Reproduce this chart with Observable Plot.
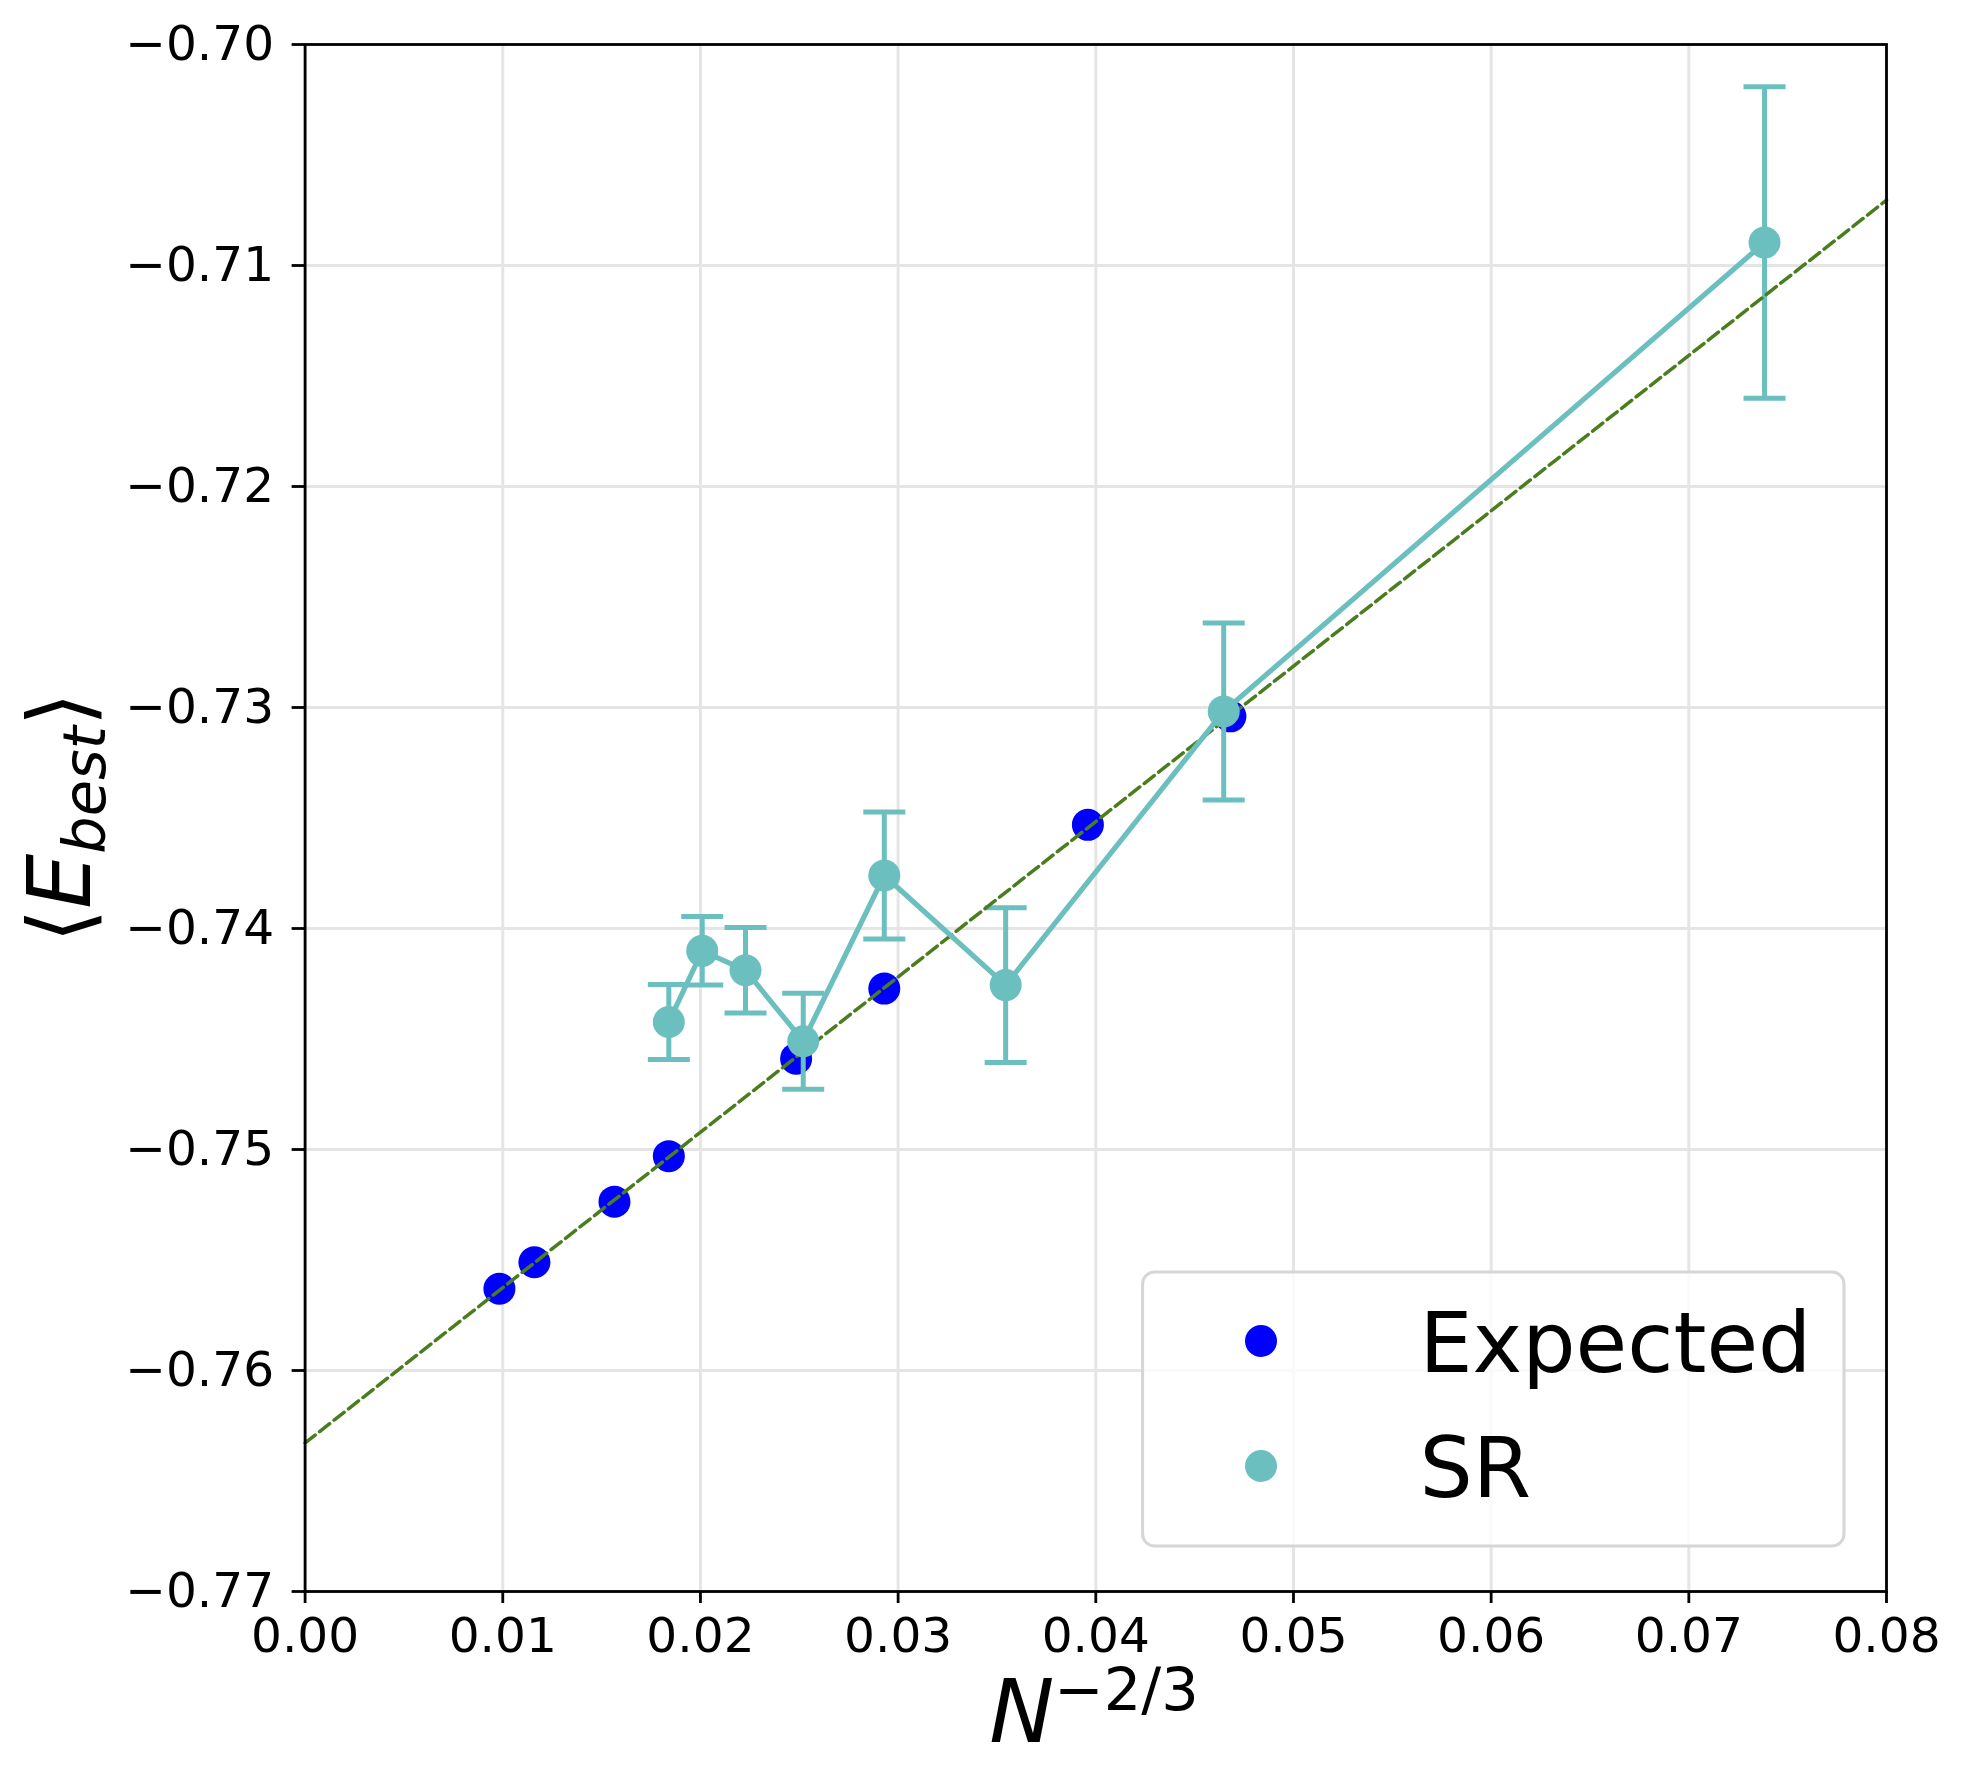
<!DOCTYPE html>
<html>
<head>
<meta charset="utf-8">
<script src="https://cdn.jsdelivr.net/npm/d3@7"></script>
<script src="https://cdn.jsdelivr.net/npm/@observablehq/plot@0.6"></script>
<style>
  html, body { margin: 0; padding: 0; background: white; }
  #chart { width: 1970px; height: 1786px; }
</style>
</head>
<body>
<div id="chart"></div>
<script>
// ---- data ----
const expectedX = [0.00983, 0.0116, 0.01565, 0.0184, 0.02484, 0.0293, 0.0396, 0.04681];
const expectedY = [-0.7563, -0.7551, -0.75236, -0.7503, -0.74589, -0.74272, -0.73531, -0.7304];

const srX   = [0.0184, 0.02009, 0.02228, 0.0252, 0.0293, 0.03544, 0.04647, 0.07383];
const srY   = [-0.74423, -0.74101, -0.74189, -0.7451, -0.7376, -0.74256, -0.73018, -0.70896];
const srErr = [0.0017, 0.00155, 0.00193, 0.00217, 0.00287, 0.0035, 0.004, 0.00705];

const fitX = [0, 0.08];
const fitY = [-0.76328, -0.70704];

const xTicks = [0, 0.01, 0.02, 0.03, 0.04, 0.05, 0.06, 0.07, 0.08];
const yTicks = [-0.77, -0.76, -0.75, -0.74, -0.73, -0.72, -0.71, -0.70];

const seriesNames = ["Expected", "SR"];
const colors = { Expected: "#0000ff", SR: "#6cbfbf", fit: "#4a7d1e" };

// ---- tables ----
const expected = expectedX.map((x, i) => ({ x, y: expectedY[i] }));
const sr = srX.map((x, i) => ({ x, y: srY[i], lo: srY[i] - srErr[i], hi: srY[i] + srErr[i] }));
const fit = fitX.map((x, i) => ({ x, y: fitY[i] }));

// horizontal cap symbol for error bars
const capSymbol = {
  draw(context, size) {
    const r = Math.sqrt(size / Math.PI);
    context.moveTo(-r, 0);
    context.lineTo(r, 0);
  }
};

const fmt = d3.format(".2f");

const chart = Plot.plot({
  width: 1970,
  height: 1786,
  marginLeft: 304.6,
  marginRight: 84,
  marginTop: 44,
  marginBottom: 195,
  style: { fontFamily: "DejaVu Sans", fontSize: "48.6px", color: "black", background: "white", overflow: "visible" },
  x: { domain: [0, 0.08] },
  y: { domain: [-0.77, -0.70] },
  marks: [
    Plot.gridX(xTicks, { stroke: "#e5e5e5", strokeOpacity: 1, strokeWidth: 3 }),
    Plot.gridY(yTicks, { stroke: "#e5e5e5", strokeOpacity: 1, strokeWidth: 3 }),
    Plot.axisX(xTicks, { tickFormat: fmt, tickSize: 12, tickPadding: 14, fontSize: 48.6, label: null, strokeWidth: 2.8 }),
    Plot.axisY(yTicks, { tickFormat: fmt, tickSize: 13, tickPadding: 18, fontSize: 48.6, label: null, strokeWidth: 2.8 }),
    Plot.dot(expected, { x: "x", y: "y", r: 16, fill: colors.Expected, stroke: "none" }),
    Plot.link(sr, { x1: "x", x2: "x", y1: "lo", y2: "hi", stroke: colors.SR, strokeWidth: 5 }),
    Plot.dot(sr, { x: "x", y: "lo", symbol: capSymbol, r: 21, stroke: colors.SR, strokeWidth: 5, fill: "none" }),
    Plot.dot(sr, { x: "x", y: "hi", symbol: capSymbol, r: 21, stroke: colors.SR, strokeWidth: 5, fill: "none" }),
    Plot.line(fit, { x: "x", y: "y", stroke: colors.fit, strokeWidth: 3.5, strokeDasharray: "12.8,5.6" }),
    Plot.line(sr, { x: "x", y: "y", stroke: colors.SR, strokeWidth: 5.2 }),
    Plot.dot(sr, { x: "x", y: "y", r: 16, fill: colors.SR, stroke: "none" }),
    Plot.frame({ stroke: "black", strokeWidth: 2.8 })
  ]
});

document.getElementById("chart").appendChild(chart);

const svg = d3.select(chart);

// x axis label: N^{-2/3}
const xl = svg.append("text")
  .attr("x", 1094).attr("y", 1742)
  .attr("text-anchor", "middle")
  .attr("fill", "black")
  .style("font-family", "DejaVu Sans");
xl.append("tspan").attr("font-size", 87).attr("font-style", "italic").text("N");
xl.append("tspan").attr("font-size", 59).attr("dy", -32).text("\u22122/3");

// y axis label: <E_best>
const yl = svg.append("text")
  .attr("transform", "translate(90,817.5) rotate(-90)")
  .attr("text-anchor", "middle")
  .attr("fill", "black")
  .style("font-family", "DejaVu Sans");
yl.append("tspan").attr("font-size", 87).text("\u27E8");
yl.append("tspan").attr("font-size", 87).attr("font-style", "italic").text("E");
yl.append("tspan").attr("font-size", 59).attr("font-style", "italic").attr("dy", 15).text("best");
yl.append("tspan").attr("font-size", 87).attr("dy", -15).text("\u27E9");

// legend
const lg = svg.append("g").attr("text-anchor", "start");
lg.append("rect")
  .attr("x", 1142.6).attr("y", 1272).attr("width", 701.4).attr("height", 274)
  .attr("rx", 12).attr("ry", 12)
  .attr("fill", "white").attr("fill-opacity", 0.8)
  .attr("stroke", "#d6d6d6").attr("stroke-width", 3);
seriesNames.forEach((name, i) => {
  const cy = 1341 + i * 125;
  lg.append("circle").attr("cx", 1261).attr("cy", cy).attr("r", 16).attr("fill", colors[name]);
  lg.append("text")
    .attr("x", 1419.5).attr("y", cy + 31)
    .attr("text-anchor", "start")
    .attr("font-size", 84)
    .attr("fill", "black")
    .style("font-family", "DejaVu Sans")
    .text(name);
});
</script>
</body>
</html>
